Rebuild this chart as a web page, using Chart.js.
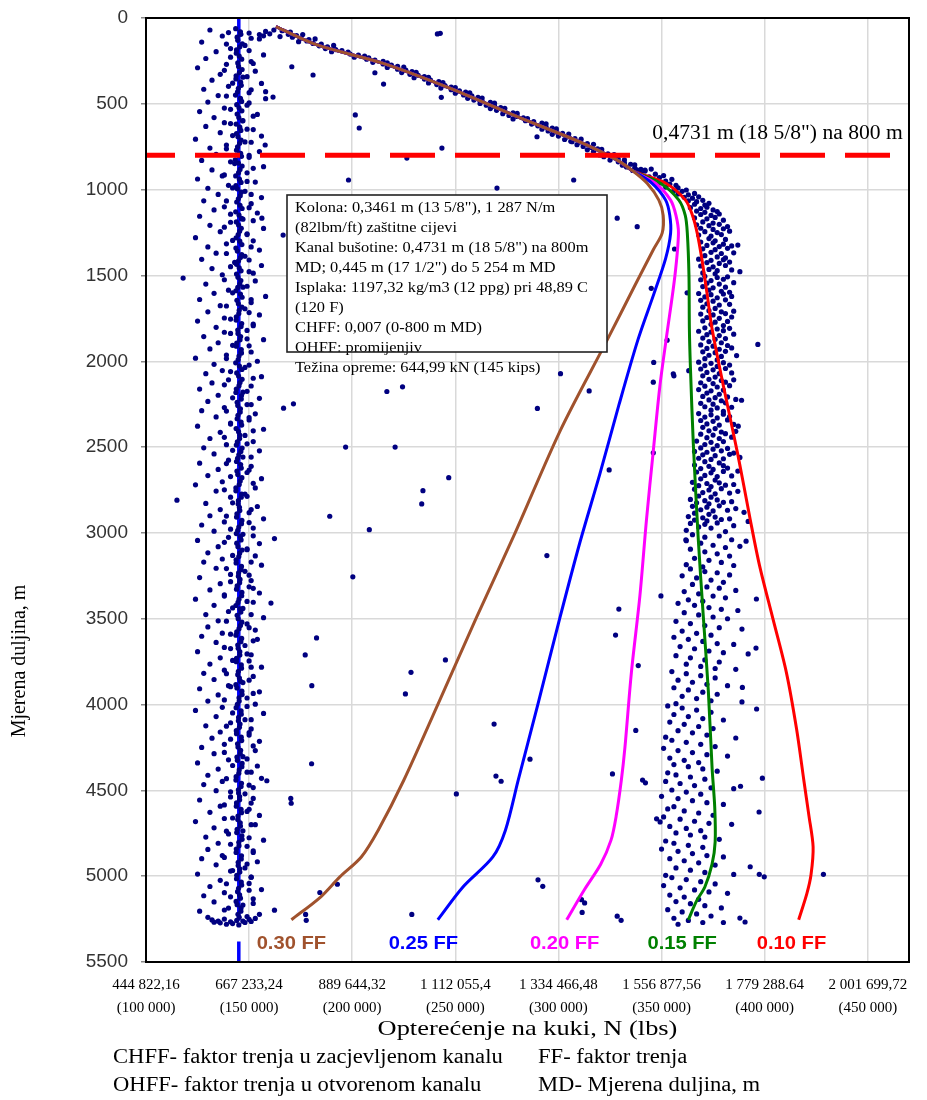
<!DOCTYPE html>
<html><head><meta charset="utf-8">
<script src="https://cdn.jsdelivr.net/npm/chart.js@4.4.1/dist/chart.umd.min.js"></script>
<style>html,body{margin:0;padding:0;background:#fff;}#wrap{width:927px;height:1100px;}</style>
</head><body><div id="wrap"><canvas id="c" width="927" height="1100"></canvas></div>
<script>
// ---------- axis ticks ----------
const xTickKips = [100,150,200,250,300,350,400,450];
const xTickNewton = ['444 822,16','667 233,24','889 644,32','1 112 055,4','1 334 466,48','1 556 877,56','1 779 288.64','2 001 699,72'];
const xTickLbs = ['(100 000)','(150 000)','(200 000)','(250 000)','(300 000)','(350 000)','(400 000)','(450 000)'];

// ---------- model curves: [hook load kips, depth m] ----------
const sharedPickup = [[163,50],[183,157],[215,264],[247.6,410],[280,575],[312,730],[328.5,828],[336,890]];
const ff030 = [[343,963],[348.7,1061],[350.8,1150],[350.3,1253],[346,1350],[337,1560],[323.6,1877],[301,2401],[279,3000],[260,3500],[241.5,4000],[225,4441],[212.6,4732],[204.4,4888],[194,5004],[184.5,5123],[170.5,5254]];
const ff025 = [[345.4,963],[352,1061],[354,1150],[354.4,1253],[352,1400],[346.5,1600],[338.5,1877],[329.3,2256],[320.1,2656],[310.4,3056],[300.6,3500],[290,4000],[280.5,4441],[274.3,4732],[268.2,4888],[253.7,5063],[241.5,5254]];
const ff020 = [[347,963],[354.4,1061],[357,1150],[358.2,1253],[356.5,1500],[352.5,1850],[349.2,2144],[346,2522],[342.7,2922],[339.5,3367],[335.4,3811],[332.2,4256],[330.5,4441],[328,4650],[325.5,4790],[320.5,4930],[312.5,5080],[304,5254]];
const ff015 = [[349.5,963],[358.4,1061],[361.5,1150],[362.5,1253],[363.3,1500],[363.5,1811],[364,2033],[365.4,2478],[367.8,3033],[370.2,3478],[372.7,3922],[374.5,4367],[375.8,4600],[376,4800],[374.5,4930],[371,5063],[367,5144],[363,5254]];
const ff010 = [[352,963],[361.6,1061],[365,1150],[367.3,1253],[369.5,1400],[372,1600],[374.5,1811],[380,2144],[387,2544],[393,2922],[397.5,3189],[404,3500],[410.5,3811],[415.5,4144],[419,4441],[421.5,4650],[423.5,4830],[422.5,4990],[420.5,5100],[416.5,5254]];
const ffNames = ['0.30 FF','0.25 FF','0.20 FF','0.15 FF','0.10 FF'];

// ---------- reference lines ----------
const casingShoeDepth = 800;
const equipmentLine = [[145,0],[145,5260],[145,null],[145,5380],[145,5500]];

// ---------- measured hook load points (flat: kips, depth) ----------
const columnCore = [143.5,62,146,95,144.5,130,145.5,168,143.8,205,146.4,240,144.9,282,145.3,318,143.6,355,146.2,392,144.4,430,145.8,468,144,505,146.5,541,145,580,143.7,618,146,655,144.6,692,145.4,730,143.9,770,146.3,806,144.8,845,145.6,882,143.5,920,146.1,958,144.3,995,145.7,1035,144,1072,146.6,1110,145.1,1148,143.8,1188,146.2,1225,144.7,1262,145.5,1300,143.6,1340,146.4,1378,144.9,1415,145.2,1455,143.9,1492,146,1530,144.5,1570,145.8,1608,144.1,1645,146.5,1685,145,1722,143.7,1760,146.1,1798,144.6,1838,145.6,1875,143.8,1912,146.3,1952,144.7,1990,145.3,2028,144,2068,146.6,2105,145.1,2142,143.6,2182,146.2,2220,144.5,2258,145.7,2296,144.2,2335,146.4,2372,144.9,2410,145.4,2450,143.8,2488,146,2525,144.4,2565,145.9,2602,144.1,2640,146.5,2678,145.2,2718,143.6,2755,146.2,2792,144.7,2832,145.5,2870,143.9,2908,146.3,2946,144.5,2985,145.8,3022,144,3060,146.6,3100,145,3138,143.7,3175,146.1,3214,144.8,3252,145.4,3290,143.9,3328,146.4,3366,144.6,3405,145.6,3442,144.2,3480,146.5,3520,145.1,3558,143.6,3596,146,3634,144.7,3672,145.5,3712,143.8,3750,146.3,3788,144.5,3826,145.9,3865,144.1,3903,146.6,3942,145.2,3980,143.7,4018,146.2,4056,144.8,4095,145.3,4133,143.9,4170,146.4,4210,144.6,4248,145.7,4286,144.3,4325,146.5,4362,145,4400,143.6,4440,146.1,4478,144.9,4516,145.4,4555,143.8,4592,146.3,4630,144.5,4670,145.8,4708,144,4746,146.6,4785,145.1,4822,143.7,4862,146.2,4900,144.7,4938,145.5,4976,143.9,5015,146.4,5052,144.4,5090,145.8,5128,144.2,5166,146,5204,145.2,5240];
const columnCore2 = [145.8,80,144.2,112,146.7,150,143.9,186,145.2,222,144.5,262,146.6,300,143.7,337,145.9,374,144.8,410,143.4,449,146.4,486,145.1,523,144.2,560,146.8,599,145.5,636,143.9,673,146.1,711,144.4,750,145.9,788,143.3,826,146.6,863,144.9,901,145.3,939,143.6,976,146.2,1015,144.8,1053,145.6,1091,143.5,1129,146.3,1168,144.9,1206,145.4,1243,143.7,1281,146.5,1320,144.3,1358,145.8,1396,143.9,1435,146.1,1473,144.6,1511,145.5,1550,143.6,1589,146.6,1627,144.8,1665,145.2,1703,143.8,1741,146.4,1780,144.5,1818,145.9,1856,144,1894,146.2,1932,145.1,1970,143.5,2009,146.5,2048,144.9,2086,145.6,2124,143.8,2162,146.3,2200,144.2,2239,145.8,2277,144.6,2315,146.1,2354,143.7,2392,145.5,2430,144.3,2469,146.6,2506,145,2545,143.9,2584,146.2,2622,144.5,2660,145.7,2698,143.6,2737,146.4,2774,144.8,2812,145.3,2851,144.1,2889,146.5,2927,145,2966,143.8,3004,146.1,3041,144.6,3080,145.4,3118,143.7,3157,146.3,3195,144.9,3233,145.6,3271,144.2,3309,146.5,3347,145.1,3386,143.6,3423,146,3461,144.7,3500,145.8,3539,144,3577,146.4,3615,144.5,3653,145.5,3692,143.9,3731,146.2,3769,144.8,3807,145.3,3846,143.6,3884,146.5,3922,145.1,3961,144.3,3999,146.1,4037,144.9,4075,145.6,4114,143.8,4152,146.2,4190,144.4,4229,145.9,4267,144.1,4306,146.6,4343,145.2,4381,143.7,4420,146.3,4459,144.8,4497,145.4,4536,143.9,4573,146.1,4611,144.6,4650,145.7,4689,144.2,4727,146.5,4765,145,4803,143.8,4842,146.3,4881,144.7,4919,145.5,4957,144,4995,146.2,5034,144.9,5071,145.4,5109,143.7,5147,146.1,5185,144.6,5222];
const columnNear = [140,85,151,118,139,152,150,190,141,228,152,265,138,305,149,342,142,380,151,418,139,455,150,495,141,532,152,572,138,610,149,648,142,685,151,724,139,762,150,800,141,838,152,876,138,914,149,952,142,990,151,1028,139,1066,150,1105,141,1143,152,1181,138,1219,149,1257,142,1296,151,1334,139,1372,150,1410,141,1449,152,1487,138,1525,149,1563,142,1601,151,1640,139,1678,150,1716,141,1754,152,1793,138,1831,149,1869,142,1907,151,1946,139,1984,150,2022,141,2060,152,2099,138,2137,149,2175,142,2213,151,2252,139,2290,150,2328,141,2366,152,2405,138,2443,149,2481,142,2519,151,2558,139,2596,150,2634,141,2672,152,2711,138,2749,149,2787,142,2825,151,2864,139,2902,150,2940,141,2978,152,3017,138,3055,149,3093,142,3131,151,3170,139,3208,150,3246,141,3284,152,3323,138,3361,149,3399,142,3437,151,3476,139,3514,150,3552,141,3590,152,3629,138,3667,149,3705,142,3743,151,3782,139,3820,150,3858,141,3896,152,3935,138,3973,149,4011,142,4049,151,4088,139,4126,150,4164,141,4202,152,4241,138,4279,149,4317,142,4355,151,4394,139,4432,150,4470,141,4508,152,4547,138,4585,149,4623,142,4661,151,4700,139,4738,150,4776,141,4814,152,4853,138,4891,149,4929,142,4967,151,5006,139,5044,150,5082,141,5120,152,5159,138,5197,149,5235];
const columnSpread = [131,70,150,88,137,105,155,122,127,140,148,160,141,178,134,196,157,215,129,236,151,254,139,270,125,290,153,310,136,328,147,345,132,362,156,381,140,398,128,415,150,435,135,452,158,470,130,490,149,508,138,525,126,545,154,562,133,580,147,598,141,615,129,632,152,650,136,668,156,688,124,706,148,722,139,740,131,758,155,778,134,795,150,812,127,830,143,848,157,866,132,885,149,902,137,920,125,938,153,956,140,975,130,992,148,1010,135,1028,156,1046,128,1065,151,1082,138,1100,133,1118,154,1136,126,1155,147,1172,141,1190,131,1208,157,1226,136,1245,149,1262,124,1280,152,1298,139,1316,130,1334,155,1352,134,1370,148,1388,127,1406,143,1424,156,1442,132,1460,150,1478,137,1496,118,1515,153,1532,129,1550,147,1568,140,1586,133,1604,158,1622,126,1640,151,1658,136,1676,148,1694,130,1712,155,1730,138,1748,125,1766,152,1784,134,1802,149,1820,141,1838,128,1856,157,1874,135,1892,150,1910,131,1928,146,1946,139,1964,124,1982,154,2000,133,2018,148,2036,137,2054,129,2072,156,2090,140,2108,132,2126,151,2144,126,2162,147,2180,135,2198,155,2216,130,2234,149,2252,138,2270,127,2288,153,2306,134,2324,150,2342,141,2360,125,2378,157,2396,136,2414,148,2432,131,2450,152,2468,139,2486,128,2504,155,2522,133,2540,147,2558,140,2576,126,2594,151,2612,135,2630,149,2648,130,2666,156,2684,137,2702,124,2720,153,2738,134,2756,148,2774,141,2792,115,2809,129,2828,154,2846,136,2864,150,2882,131,2900,157,2918,138,2936,127,2954,152,2972,133,2990,147,3008,140,3026,125,3044,155,3062,135,3080,149,3098,130,3116,153,3134,137,3152,128,3170,156,3188,134,3206,148,3224,141,3242,126,3260,151,3278,136,3296,150,3314,131,3332,155,3350,138,3368,124,3386,152,3404,133,3422,147,3440,140,3458,129,3476,157,3494,135,3512,149,3530,130,3548,153,3566,137,3584,127,3602,154,3620,134,3638,148,3656,141,3674,125,3692,151,3710,136,3728,150,3746,131,3764,156,3782,138,3800,128,3818,152,3836,133,3854,147,3872,140,3890,126,3908,155,3926,135,3944,149,3962,130,3980,153,3998,137,4016,124,4034,157,4052,134,4070,148,4088,141,4106,129,4124,151,4142,136,4160,150,4178,132,4196,155,4214,138,4232,127,4250,153,4268,133,4286,147,4304,140,4322,125,4340,154,4358,135,4376,149,4394,130,4412,156,4430,137,4448,128,4466,152,4484,134,4502,148,4520,141,4538,126,4556,151,4574,136,4592,150,4610,131,4628,155,4646,138,4664,124,4682,153,4700,133,4718,147,4736,140,4754,129,4772,157,4790,135,4808,149,4826,130,4844,152,4862,137,4880,127,4898,154,4916,134,4934,148,4952,141,4970,125,4988,151,5006,136,5024,150,5042,131,5060,156,5078,138,5096,128,5114,152,5132,133,5150,147,5168,140,5186,126,5204,155,5222,132,5255,135,5262,138,5250,141,5266,144,5258,147,5262,150,5252,136,5272,142,5276,148,5270,139,5280,145,5284,133,5268,151,5264,153,5246,130,5240];
const pickupPoints = [155,96,157,104,158,78,162,70,166,74,170,82,160,92,169,95,173,102,176,96,165,108,171,112,175,118,179,126,182,122,174,138,178,134,181,148,185,152,184,162,188,168,191,160,187,178,192,184,195,190,190,196,198,198,199,210,203,216,206,222,201,228,208,232,207,240,211,246,215,252,210,258,217,262,215,268,219,274,222,282,217,288,225,286,222,298,226,304,229,312,224,318,231,316,228,328,232,334,235,342,230,348,237,346,235,356,238,362,242,370,237,378,244,376,241,388,245,394,248,402,243,408,250,406,248,418,252,424,255,432,250,438,257,436,254,448,258,454,261,462,256,468,263,466,259,478,263,484,267,492,262,498,269,496,265,508,269,514,272,522,267,528,274,526,270,538,274,544,278,552,273,558,280,556,276,568,280,574,283,582,278,588,285,586,284,598,288,604,292,612,287,618,294,616,290,628,294,634,297,642,292,648,299,646,295,658,299,664,302,672,297,678,305,676,300,688,304,694,308,702,303,708,311,706,306,718,310,724,314,732,309,738,317,736,312,748,316,754,319,762,314,768,321,766,317,778,321,784,324,792,320,798,327,796,322,808,326,814,329,822,325,828,332,826,329,838,332,844,335,852,331,858,337,856,333,868,337,874,340,882,336,888,342,886];
const clusterPoints = [338,885,342,892,345,880,340,905,347,910,344,925,349,930,351,918,346,945,352,950,355,940,349,962,354,968,357,975,352,985,358,990,356,1005,360,1010,362,1002,358,1025,363,1030,366,1022,361,1045,365,1050,368,1042,363,1065,367,1070,370,1062,366,1085,371,1090,373,1080,364,1105,369,1110,372,1102,375,1118,367,1125,371,1132,377,1128,369,1145,374,1150,378,1142,366,1165,372,1170,376,1162,380,1178,370,1188,375,1195,367,1205,373,1210,378,1202,382,1215,369,1225,375,1232,380,1228,371,1245,377,1250,383,1242,368,1265,374,1270,379,1262,373,1285,381,1290,376,1298,369,1305,375,1310,380,1318,372,1325,378,1332,384,1328,370,1345,376,1350,382,1342,374,1365,379,1372,385,1368,371,1385,377,1392,381,1398,368,1405,374,1412,380,1408,372,1425,378,1430,383,1422,369,1445,375,1450,381,1442,373,1465,377,1472,384,1468,370,1485,376,1490,371,1505,377,1512,382,1508,369,1525,374,1530,380,1522,372,1545,378,1550,385,1542,370,1565,375,1572,381,1568,373,1585,379,1592,383,1598,368,1605,374,1612,380,1608,371,1625,377,1630,384,1622,369,1645,375,1650,381,1642,372,1665,378,1672,383,1668,370,1685,376,1692,373,1705,379,1712,385,1708,369,1725,375,1730,381,1722,372,1745,378,1750,384,1742,370,1765,376,1772,382,1768,374,1785,380,1792,371,1805,377,1812,383,1808,368,1825,374,1830,380,1822,372,1845,378,1850,385,1842,370,1865,376,1872,381,1868,373,1885,379,1892,369,1905,375,1912,382,1908,372,1925,378,1930,384,1922,370,1945,376,1950,381,1942,373,1965,379,1972,371,1985,377,1992,368,2005,374,2012,380,2008,371,2025,377,2030,383,2022,369,2045,375,2050,381,2042,372,2065,378,2072,384,2068,370,2085,376,2092,373,2105,379,2112,385,2108,369,2125,375,2130,381,2122,371,2145,377,2150,383,2142,368,2165,374,2172,380,2168,372,2185,378,2192,370,2205,376,2212,382,2208,373,2225,379,2230,386,2222,369,2245,375,2250,381,2242,371,2265,377,2272,384,2268,374,2285,380,2292,368,2305,374,2312,380,2308,371,2325,377,2330,383,2322,369,2345,375,2350,382,2342,372,2365,378,2372,385,2368,370,2385,376,2392,373,2405,379,2412,386,2408,369,2425,375,2430,381,2422,372,2445,378,2450,384,2442,367,2465,374,2472,380,2468,371,2485,377,2492,369,2505,375,2512,382,2508,366,2525,372,2530,379,2522,385,2535,370,2545,376,2550,383,2542,368,2565,374,2572,380,2568,388,2560,371,2585,378,2592,366,2605,373,2612,380,2608,369,2625,375,2630,382,2622,387,2640,367,2645,374,2650,380,2642,371,2665,377,2672,384,2668,369,2685,376,2692,365,2705,372,2712,378,2708,385,2718,368,2725,374,2730,381,2722,366,2745,373,2750,379,2742,387,2758,370,2765,376,2772,383,2768,368,2785,374,2792,364,2805,371,2812,377,2808,384,2818,367,2825,373,2830,380,2822,365,2845,372,2850,378,2842,386,2858,369,2865,375,2872,382,2868,366,2885,373,2892,390,2880,363,2905,370,2912,376,2908,383,2918,366,2925,372,2930,379,2922,364,2945,371,2950,377,2942,385,2958,368,2965,374,2972,362,2985,381,2992,365,3010,371,3025,378,3018,384,3040,362,3045,369,3060,375,3072,381,3085,388,3078,364,3095,371,3110,377,3122,383,3135,366,3148,373,3160,379,3172,362,3185,385,3190,370,3198,364,3210,371,3225,377,3232,383,3245,360,3250,367,3262,374,3275,380,3288,365,3300,372,3315,378,3322,386,3335,361,3342,368,3355,375,3368,381,3378,363,3390,370,3398,358,3410,366,3422,373,3435,379,3445,387,3452,361,3465,368,3478,375,3490,382,3500,357,3515,364,3528,371,3540,378,3552,389,3560,360,3572,367,3585,374,3596,356,3608,363,3620,370,3632,377,3645,385,3650,359,3662,366,3675,373,3688,380,3698,392,3705,357,3715,364,3728,371,3740,378,3752,362,3765,369,3778,376,3790,386,3795,355,3808,362,3820,369,3832,376,3845,358,3858,365,3870,372,3882,382,3890,356,3902,363,3915,370,3928,377,3940,360,3952,367,3965,374,3978,389,3985,357,3995,353,4008,360,4020,367,4032,374,4045,356,4058,363,4070,370,4082,380,4090,354,4102,361,4115,368,4128,375,4140,358,4152,365,4165,372,4178,352,4190,386,4195,355,4208,362,4220,369,4232,376,4245,351,4255,358,4268,365,4280,372,4292,382,4300,354,4312,361,4325,368,4338,356,4350,363,4362,370,4375,377,4388,353,4398,357,4410,364,4422,371,4435,352,4448,359,4460,366,4472,374,4485,385,4490,355,4498,362,4510,369,4522,350,4535,358,4548,365,4560,372,4572,380,4582,356,4595,353,4608,361,4620,368,4632,375,4645,351,4655,359,4668,366,4680,373,4692,384,4698,354,4710,362,4722,369,4735,357,4748,364,4760,371,4772,378,4785,352,4795,356,4808,363,4820,370,4832,350,4842,358,4855,365,4868,372,4880,380,4888,354,4898,361,4910,368,4922,376,4935,393,4945,357,4952,364,4965,371,4978,385,4990,352,4995,355,5008,362,5020,369,5032,376,5045,351,5055,359,5068,366,5080,373,5092,382,5100,354,5110,361,5122,368,5135,357,5148,364,5160,371,5172,379,5185,353,5195,360,5208,367,5220,374,5232,356,5245,363,5258,370,5270,358,5280,380,5270];
const outlierPoints = [241.3,93,170.7,284,181,332,158,429,161.6,461,201.5,565,203.4,641,157.8,740,211,319,215.2,385,242.7,89,243.2,462,243.5,758,226.5,816,198.2,944,270.2,991,289.6,692,306.6,721,307.4,944,328.5,1166,338.2,1216,156.2,1166,166.5,1265,345,1575,346.2,2007,352.7,1877,356.3,1346,362.4,1601,363.2,2055,356,2085,387,1323,388,1478,396.7,1902,386.4,1967,301,2072,224.4,2149,216.8,2176,171.5,2248,166.7,2273,289.8,2275,196.8,2500,220.8,2500,246.8,2678,234.3,2754,233.7,2831,189.1,2903,208.3,2981,162.3,3033,294.4,3132,200.3,3256,160.6,3409,182.7,3612,177.2,3711,245.2,3740,228.5,3812,180.4,3890,225.8,3938,268.8,4114,286.2,4318,180.3,4345,269.7,4417,158.6,4444,250.5,4521,170.2,4547,290.1,5021,192.8,5047,184.3,5095,162.3,5198,177.4,5223,228.9,5223,314.9,2173,355.7,2073,346,2122,346,2533,324.6,2633,361.8,3040,349.7,3367,329.3,3444,327.7,3595,338.7,3773,337.5,4151,326.2,4404,340.8,4440,347.6,4666,311.2,5137,311.5,5211,328.5,5233,388,5244,428.5,4989,397.4,4989,398.9,4429,396.1,4026,389.2,3900,395.8,3671,388.8,2227,387.2,2378,392,2933,391,3048,396,3385,170.4,4575,272.2,4447,342.2,4456,292.4,5059,312.7,5156,330.4,5257,177.7,5257,390.5,5267,399.8,5004,397.3,4626,349.3,4684,388.3,4476];

// ---------- texts ----------
const casingNote = '0,4731 m (18 5/8") na 800 m';
const infoLines = ['Kolona: 0,3461 m (13 5/8"), 1 287 N/m','(82lbm/ft) zaštitne cijevi','Kanal bušotine: 0,4731 m (18 5/8") na 800m','MD; 0,445 m (17 1/2") do 5 254 m MD','Isplaka: 1197,32 kg/m3 (12 ppg) pri 48,89 C','(120 F)','CHFF: 0,007 (0-800 m MD)','OHFF: promijenjiv','Težina opreme: 644,99 kN (145 kips)'];
const xTitle = 'Opterećenje na kuki, N (lbs)';
const yTitle = 'Mjerena duljina, m';
const notesLeft = ['CHFF- faktor trenja u zacjevljenom kanalu','OHFF- faktor trenja u otvorenom kanalu'];
const notesRight = ['FF- faktor trenja','MD- Mjerena duljina, m'];

// ---------- build datasets ----------
const flat = a => { const r = []; for (let i = 0; i < a.length; i += 2) r.push({x:a[i], y:a[i+1]}); return r; };
const pairs = a => a.map(p => ({x:p[0], y:p[1]}));
const NAVY = '#000080';
const curveColors = ['#A0522D','#0000FF','#FF00FF','#008000','#FF0000'];
const curves = [ff030, ff025, ff020, ff015, ff010];

const datasets = [];
datasets.push({label:'casing', data: pairs([[100,casingShoeDepth],[470,casingShoeDepth]]), showLine:true, borderColor:'#FF0000', borderWidth:5, borderDash:[45,20], borderDashOffset:16, pointRadius:0, order:0});
curves.forEach((c, i) => {
  datasets.push({label: ffNames[i], data: pairs(sharedPickup.concat(c)), showLine:true, borderColor: curveColors[i], borderWidth:3, tension:0.3, pointRadius:0, order: 1 + i});
});
[columnCore, columnCore2, columnNear, columnSpread, pickupPoints, clusterPoints, outlierPoints].forEach((g, i) => {
  datasets.push({label:'mjerenje' + i, data: flat(g), showLine:false, pointRadius:2.6, pointBorderWidth:0, backgroundColor: NAVY, borderColor: NAVY, order: 10 + i});
});
datasets.push({label:'oprema', data: pairs(equipmentLine), showLine:true, spanGaps:false, borderColor:'#0000FF', borderWidth:3.5, pointRadius:0, order: 30});

const ffLabelOffsetKips = [0, -7, -1, -3, -3.5];

// text drawn with a slight horizontal stretch (the reference text is wide)
function wideText(ctx, text, x, y, sx) {
  ctx.save();
  ctx.translate(x, y);
  ctx.scale(sx, 1);
  ctx.fillText(text, 0, 0);
  ctx.restore();
}

const textPlugin = {
  id: 'texts',
  afterDatasetsDraw(chart) {
    const {ctx, chartArea: a, scales: {x, y}} = chart;
    ctx.save();
    ctx.strokeStyle = '#000'; ctx.lineWidth = 2;
    ctx.strokeRect(a.left, a.top, a.right - a.left, a.bottom - a.top);
    ctx.fillStyle = '#000';
    ctx.textBaseline = 'middle';
    ctx.textAlign = 'left';
    ctx.font = '20px "Liberation Serif"';
    wideText(ctx, casingNote, x.getPixelForValue(345.5), y.getPixelForValue(casingShoeDepth) - 22, 1.08);
    const bx = 287, by = 195, bw = 320, bh = 157;
    ctx.fillStyle = '#fff';
    ctx.fillRect(bx, by, bw, bh);
    ctx.fillStyle = '#000';
    ctx.font = '14.5px "Liberation Serif"';
    infoLines.forEach((t, i) => wideText(ctx, t, 295, 208 + i * 20, 1.13));
    ctx.strokeStyle = '#222'; ctx.lineWidth = 1.6;
    ctx.strokeRect(bx, by, bw, bh);
    ctx.font = 'bold 18px "Liberation Sans"';
    ctx.textAlign = 'center';
    curves.forEach((c, i) => {
      const end = c[c.length - 1];
      ctx.fillStyle = curveColors[i];
      wideText(ctx, ffNames[i], x.getPixelForValue(end[0] + ffLabelOffsetKips[i]), 944, 1.12);
    });
    ctx.restore();
  },
  afterDraw(chart) {
    const {ctx, chartArea: a} = chart;
    ctx.save();
    ctx.fillStyle = '#000';
    ctx.textBaseline = 'middle';
    ctx.textAlign = 'center';
    ctx.font = '22px "Liberation Serif"';
    wideText(ctx, xTitle, (a.left + a.right) / 2, 1029, 1.2);
    ctx.save();
    ctx.translate(20, 661);
    ctx.rotate(-Math.PI / 2);
    ctx.font = '20px "Liberation Serif"';
    ctx.fillText(yTitle, 0, 0);
    ctx.restore();
    ctx.textAlign = 'left';
    ctx.font = '20px "Liberation Serif"';
    notesLeft.forEach((t, i) => wideText(ctx, t, 113, 1058 + i * 28, 1.13));
    notesRight.forEach((t, i) => wideText(ctx, t, 538, 1058 + i * 28, 1.13));
    ctx.restore();
  }
};

new Chart(document.getElementById('c'), {
  type: 'scatter',
  data: { datasets },
  plugins: [textPlugin],
  options: {
    responsive: false,
    animation: false,
    events: [],
    layout: { padding: { left: 0, top: 18, right: 18, bottom: 0 } },
    plugins: { legend: { display: false }, tooltip: { enabled: false } },
    scales: {
      x: {
        type: 'linear', min: 100, max: 470,
        afterBuildTicks: s => { s.ticks = xTickKips.map(v => ({ value: v })); },
        afterFit: s => { s.height = 138; s.paddingLeft = 0; s.paddingRight = 0; },
        grid: { color: '#d9d9d9', lineWidth: 1.5, drawTicks: false },
        border: { color: '#000', width: 2 },
        ticks: {
          padding: 12, color: '#000', maxRotation: 0, autoSkip: false,
          font: { family: '"Liberation Serif"', size: 15, lineHeight: 1.53 },
          callback: v => { const i = xTickKips.indexOf(v); return i < 0 ? '' : [xTickNewton[i], xTickLbs[i]]; }
        }
      },
      y: {
        type: 'linear', reverse: true, min: 0, max: 5500,
        afterFit: s => { s.width = 146; s.paddingTop = 0; s.paddingBottom = 0; },
        grid: { color: '#d9d9d9', lineWidth: 1.5, tickLength: 5, tickColor: '#888' },
        border: { color: '#000', width: 2 },
        ticks: { stepSize: 500, padding: 13, color: '#333', font: { family: '"Liberation Sans"', size: 19 }, callback: v => String(v) }
      }
    }
  }
});
</script></body></html>
